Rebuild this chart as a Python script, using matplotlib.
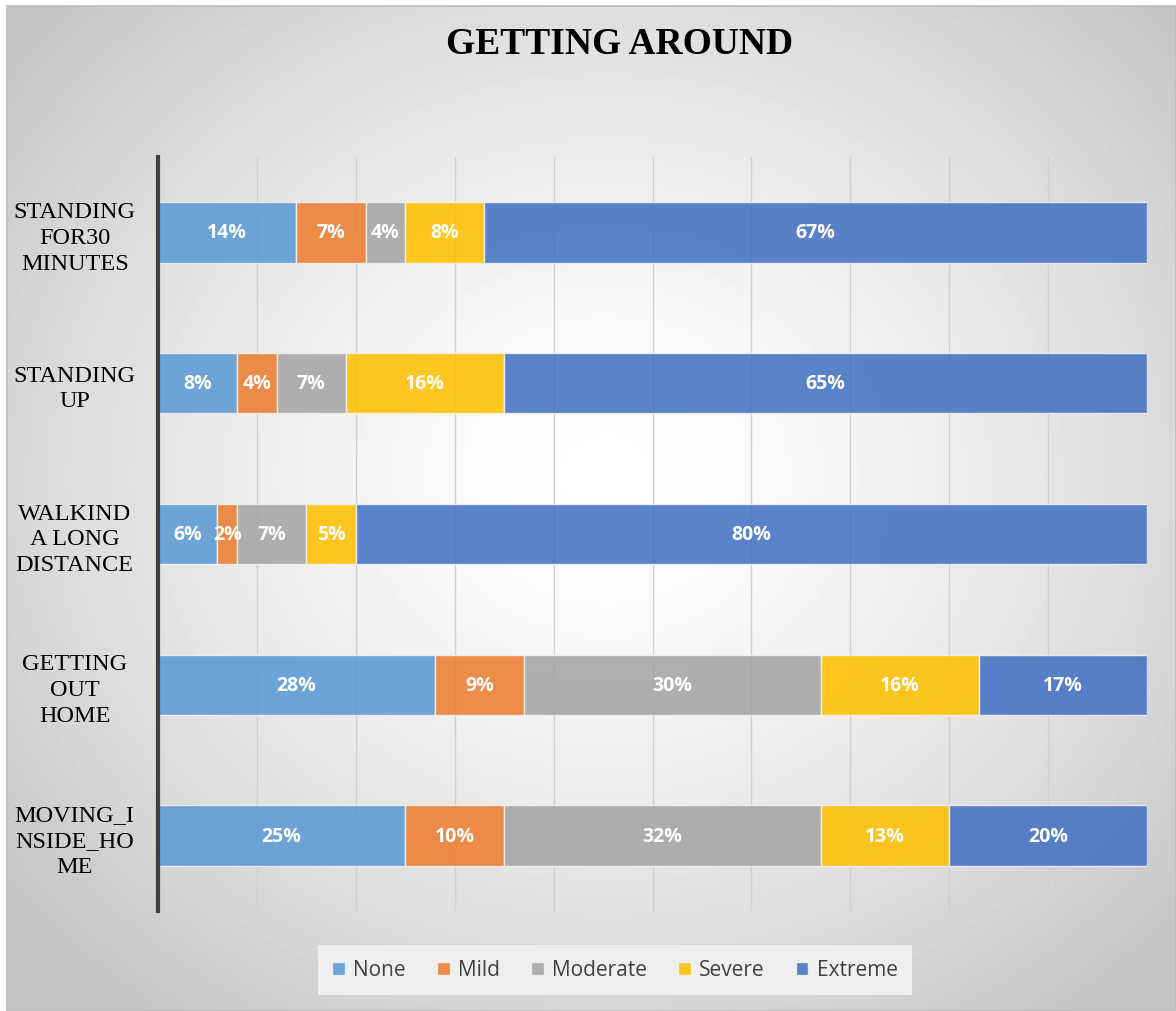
#!/usr/bin/env python

# Getting around: 100% stacked horizontal bars per activity

import numpy as np
import matplotlib.pyplot as plt

DPI = 100

# Activities (top to bottom) and share of answers per severity
activities = ['STANDING\nFOR30\nMINUTES', 'STANDING\nUP', 'WALKIND\nA LONG\nDISTANCE',
              'GETTING\nOUT\nHOME', 'MOVING_I\nNSIDE_HO\nME']
levels = ['None', 'Mild', 'Moderate', 'Severe', 'Extreme']
none_pct     = [14, 8, 6, 28, 25]
mild_pct     = [7, 4, 2, 9, 10]
moderate_pct = [4, 7, 7, 30, 32]
severe_pct   = [8, 16, 5, 16, 13]
extreme_pct  = [67, 65, 80, 17, 20]

colors = ['#5B9BD5', '#ED7D31', '#A5A5A5', '#FFC000', '#4472C4']


# Open figure
fig = plt.figure(figsize=(11.76, 10.12), dpi=DPI)
fig.patch.set_facecolor('white')

# Radial grey background of the chart area
bg = fig.add_axes([7/1176, 0, 1 - 7/1176, 1 - 7/1012])
h, w = 1005, 1169
yy, xx = np.mgrid[0:h, 0:w]
r = np.hypot((xx - 600) / 700.0, (yy - 470) / 620.0)
shade = np.clip(1.0 - 0.2 * r ** 1.5, 0.77, 1.0)
bg.imshow(shade, cmap='gray', vmin=0, vmax=1, aspect='auto',
          extent=[0, 1, 0, 1], interpolation='bilinear')
bg.set_xticks([])
bg.set_yticks([])
for s in bg.spines.values():
    s.set_color('#bdbdbd')
    s.set_linewidth(1.2)

# Main axes
ax = fig.add_axes([158/1176, 100/1012, 989/1176, 754/1012])
ax.set_facecolor('none')

series = [none_pct, mild_pct, moderate_pct, severe_pct, extreme_pct]
ypos = np.arange(len(activities))
left = np.zeros(len(activities))
for name, vals, col in zip(levels, series, colors):
    vals = np.array(vals, dtype=float)
    bars = ax.barh(ypos, vals, left=left, height=0.4, color=col, alpha=0.88,
                   edgecolor='#f2f2f2', linewidth=1.0, label=name, zorder=3)
    ax.bar_label(bars, labels=['%d%%' % v for v in vals], label_type='center',
                 color='white', fontsize=14, fontweight='bold',
                 family='Open Sans', zorder=4)
    left += vals

# Arrange plot
ax.set_xlim(0, 100)
ax.set_ylim(len(activities) - 0.5, -0.5)
ax.set_xticks(np.arange(0, 101, 10))
ax.set_xticklabels([])
ax.tick_params(axis='x', length=0)
ax.set_yticks(ypos)
ax.set_yticklabels(activities, family='Liberation Serif', fontsize=17.5,
                   ha='center', ma='center', linespacing=1.3)
# pad is in points: label centres sit ~83 px left of the axis
ax.tick_params(axis='y', length=0, pad=60)
ax.grid(axis='x', color='#d0d0d0', linewidth=1.0, zorder=0)
for s in ['top', 'right', 'bottom']:
    ax.spines[s].set_visible(False)
ax.spines['left'].set_color('#404040')
ax.spines['left'].set_linewidth(3)
ax.spines['left'].set_zorder(5)

# Title
fig.text(620/1176, 1 - 45/1012, 'GETTING AROUND', ha='center', va='center',
         family='Liberation Serif', fontweight='bold', fontsize=27)

# Legend
leg = fig.legend(loc='center', bbox_to_anchor=(615/1176, 1 - 971/1012), ncol=5,
                 frameon=True, fancybox=False, prop={'family': 'Open Sans', 'size': 15},
                 handlelength=0.6, handleheight=0.6, handletextpad=0.4,
                 columnspacing=1.5, borderpad=0.7)
leg.get_frame().set_facecolor('#efefef')
leg.get_frame().set_edgecolor('none')
leg.get_frame().set_alpha(1)
for t in leg.get_texts():
    t.set_color('#404040')

fig.savefig('out.png', dpi=DPI)
